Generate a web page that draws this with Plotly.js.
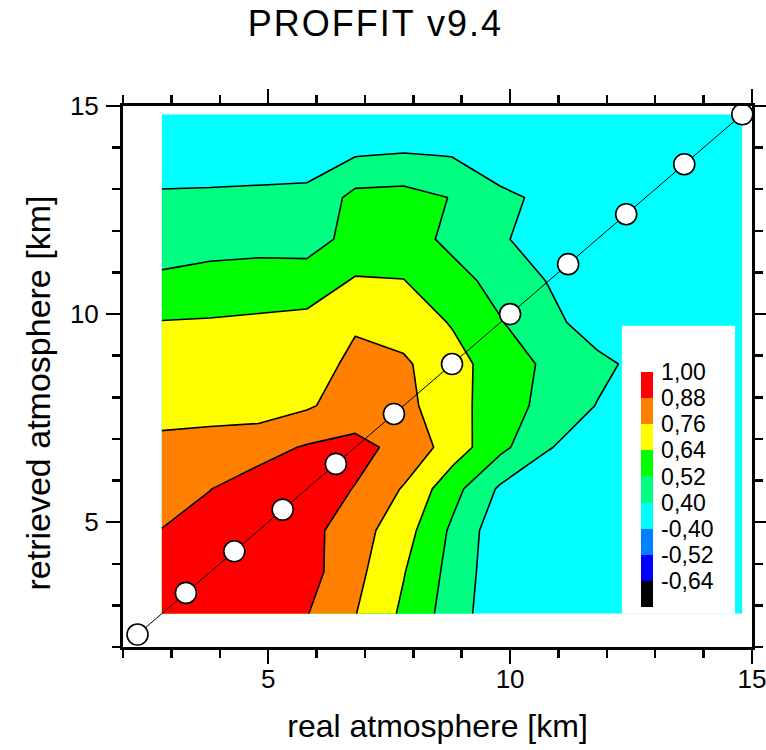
<!DOCTYPE html>
<html>
<head>
<meta charset="utf-8">
<script src="https://cdn.plot.ly/plotly-3.0.1.min.js"></script>
<style>
  html, body { margin: 0; padding: 0; background: #ffffff; }
  #chart { width: 766px; height: 750px; }
  .gtitle { letter-spacing: 2px; }
</style>
</head>
<body>
<div id="chart"></div>
<script>
// Kernel grid: real atmosphere altitude (columns) and retrieved altitude (rows), km
const realKm      = [2.8, 3.8, 4.8, 5.8, 6.8, 7.8, 8.8, 9.8, 10.8, 11.8, 12.8, 13.8, 14.8];
const retrievedKm = [2.8, 3.8, 4.8, 5.8, 6.8, 7.8, 8.8, 9.8, 10.8, 11.8, 12.8, 13.8, 14.8];

// Kernel values, one row per retrieved altitude (lowest row first)
const kernel = [
  [0.960, 0.970, 0.950, 0.885, 0.764, 0.618, 0.464, 0.314, 0.220, 0.160, 0.120, 0.100, 0.080],
  [0.950, 0.960, 0.950, 0.926, 0.795, 0.646, 0.481, 0.320, 0.230, 0.170, 0.130, 0.100, 0.080],
  [0.885, 0.920, 0.940, 0.920, 0.812, 0.690, 0.500, 0.324, 0.240, 0.180, 0.140, 0.110, 0.090],
  [0.785, 0.878, 0.930, 0.930, 0.876, 0.750, 0.564, 0.381, 0.270, 0.200, 0.150, 0.120, 0.100],
  [0.800, 0.820, 0.840, 0.890, 0.910, 0.850, 0.705, 0.550, 0.410, 0.300, 0.220, 0.160, 0.120],
  [0.700, 0.700, 0.700, 0.745, 0.820, 0.794, 0.685, 0.577, 0.481, 0.396, 0.280, 0.200, 0.150],
  [0.680, 0.690, 0.700, 0.720, 0.780, 0.778, 0.683, 0.584, 0.496, 0.429, 0.363, 0.270, 0.200],
  [0.645, 0.650, 0.660, 0.670, 0.750, 0.706, 0.632, 0.527, 0.434, 0.342, 0.270, 0.200, 0.150],
  [0.536, 0.557, 0.567, 0.577, 0.650, 0.643, 0.563, 0.480, 0.394, 0.320, 0.250, 0.190, 0.140],
  [0.475, 0.478, 0.482, 0.470, 0.560, 0.575, 0.491, 0.420, 0.320, 0.260, 0.210, 0.160, 0.120],
  [0.413, 0.416, 0.419, 0.422, 0.555, 0.560, 0.516, 0.415, 0.385, 0.300, 0.230, 0.170, 0.130],
  [0.350, 0.350, 0.355, 0.360, 0.397, 0.415, 0.397, 0.360, 0.310, 0.250, 0.190, 0.150, 0.110],
  [0.300, 0.300, 0.300, 0.300, 0.280, 0.200, 0.260, 0.280, 0.240, 0.200, 0.160, 0.120, 0.100]
];

// Retrieval layer altitudes, marked on the diagonal (real = retrieved)
const layerKm = [2.3, 3.3, 4.3, 5.3, 6.4, 7.6, 8.8, 10.0, 11.2, 12.4, 13.6, 14.8];

// Colour classes of the scale: boundaries (lowest first) and class colours
const classLevels = [-0.64, -0.52, -0.40, 0.40, 0.52, 0.64, 0.76, 0.88, 1.00];
const classColors = ['#000000', '#0000ff', '#0080ff', '#00ffff', '#00ff80',
                     '#00ff00', '#ffff00', '#ff8000', '#ff0000'];

const FONT = 'Arial, "Liberation Sans", sans-serif';

// Positive contour levels 0.40 ... 1.00 (equal 0.12 steps)
const posLevels = classLevels.filter(v => v >= 0.40);
const levelStep = Math.round((posLevels[1] - posLevels[0]) * 100) / 100;

// Fill colours: area below 0.40 is cyan, then one colour per band
const bandColors = classColors.slice(classLevels.indexOf(0.40));
const contourScale = bandColors.map((c, k) => [k / bandColors.length, c])
  .concat([[1, bandColors[bandColors.length - 1]]]);

// Colour key: one equal block per class
const nClass = classColors.length;
const keyScale = [];
classColors.forEach((c, k) => {
  keyScale.push([k / nClass, c]);
  keyScale.push([(k + 1) / nClass, c]);
});
const keyTickVals = classLevels.map((v, k) => k + 1);
const keyTickText = classLevels.map(v => v.toFixed(2).replace('.', ','));

const kernelTrace = {
  type: 'contour',
  x: realKm,
  y: retrievedKm,
  z: kernel,
  autocontour: false,
  contours: {
    start: posLevels[0],
    end: posLevels[posLevels.length - 1],
    size: levelStep,
    coloring: 'fill',
    showlines: true
  },
  line: { color: '#000000', width: 1.6, smoothing: 0 },
  colorscale: contourScale,
  showscale: false,
  hoverinfo: 'skip'
};

const diagonalTrace = {
  type: 'scatter',
  mode: 'lines+markers',
  x: layerKm,
  y: layerKm,
  line: { color: '#000000', width: 1 },
  marker: { size: 21, color: '#ffffff', line: { color: '#000000', width: 1.6 } },
  cliponaxis: false,
  hoverinfo: 'skip'
};

// Plot area in pixels (used to place the colour key)
const M = { l: 123, r: 14, t: 106, b: 103 };
const plotW = 766 - M.l - M.r;
const plotH = 750 - M.t - M.b;

// Carrier of the colour key (no visible marks)
const keyTrace = {
  type: 'scatter',
  mode: 'markers',
  x: [null],
  y: [null],
  marker: {
    color: [0],
    cmin: 0,
    cmax: nClass,
    colorscale: keyScale,
    showscale: true,
    colorbar: {
      xref: 'paper', yref: 'paper',
      x: (641 - M.l) / plotW, xanchor: 'left',
      y: 1 - (372 - M.t) / plotH, yanchor: 'top',
      thicknessmode: 'pixels', thickness: 12,
      lenmode: 'pixels', len: 235,
      xpad: 0, ypad: 0,
      outlinewidth: 0,
      bgcolor: 'rgba(0,0,0,0)',
      ticks: 'outside', ticklen: 4, tickcolor: 'rgba(0,0,0,0)',
      tickmode: 'array', tickvals: keyTickVals, ticktext: keyTickText,
      tickfont: { family: FONT, size: 23, color: '#000000' }
    }
  },
  showlegend: false,
  hoverinfo: 'skip'
};

const axisCommon = {
  range: [2, 15],
  tick0: 0,
  dtick: 5,
  ticks: 'outside',
  ticklen: 14,
  tickwidth: 2.5,
  tickcolor: '#000000',
  showline: true,
  linewidth: 3,
  linecolor: '#000000',
  mirror: 'ticks',
  showgrid: false,
  zeroline: false,
  ticklabeloverflow: 'allow',
  tickfont: { family: FONT, size: 26, color: '#000000' },
  minor: { tick0: 0, dtick: 1, ticks: 'outside', ticklen: 8, tickwidth: 2.5, tickcolor: '#000000', showgrid: false }
};

const layout = {
  width: 766,
  height: 750,
  margin: { l: M.l, r: M.r, t: M.t, b: M.b, autoexpand: false },
  paper_bgcolor: '#ffffff',
  plot_bgcolor: '#ffffff',
  font: { family: FONT, color: '#000000' },
  showlegend: false,
  title: {
    text: 'PROFFIT v9.4',
    font: { family: FONT, size: 36, color: '#000000' },
    x: 0.49, xanchor: 'center',
    xref: 'container',
    y: 1 - 23 / 750, yanchor: 'middle', yref: 'container'
  },
  xaxis: Object.assign({}, axisCommon, {
    ticklabelstandoff: -7,
    title: { text: 'real atmosphere [km]', font: { family: FONT, size: 32, color: '#000000' }, standoff: 22 }
  }),
  yaxis: Object.assign({}, axisCommon, {
    ticklabelstandoff: 2
  }),
  annotations: [{
    text: 'retrieved atmosphere [km]',
    xref: 'paper', yref: 'paper',
    x: (37.5 - M.l) / plotW, y: 1 - (393 - M.t) / plotH,
    xanchor: 'center', yanchor: 'middle',
    textangle: -90, showarrow: false,
    font: { family: FONT, size: 34, color: '#000000' }
  }],
  // white panel behind the colour key
  shapes: [{
    type: 'rect', xref: 'x', yref: 'y',
    x0: 12.31, x1: 14.65, y0: 2.8, y1: 9.72,
    fillcolor: '#ffffff', line: { width: 0 }, layer: 'above'
  }]
};

Plotly.newPlot('chart', [kernelTrace, diagonalTrace, keyTrace], layout, { displayModeBar: false, staticPlot: true });
</script>
</body>
</html>
